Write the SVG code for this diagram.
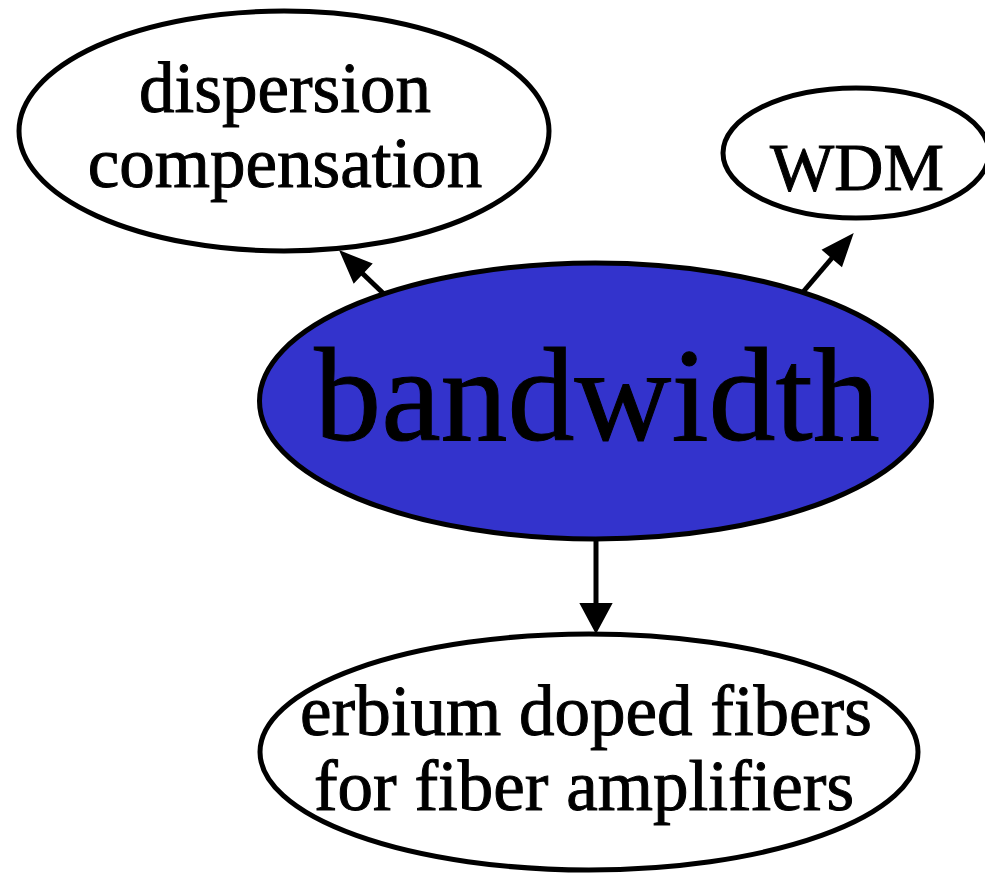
<svg xmlns="http://www.w3.org/2000/svg" width="985" height="874" viewBox="0 0 985 874">
<style>
.node ellipse{fill:#ffffff;stroke:#000000;stroke-width:5}
.node text{font-family:"Liberation Serif","Times New Roman",serif;fill:#000000;stroke:#000000;stroke-width:1;text-anchor:middle}
.edge line{stroke:#000000;stroke-width:5}
.edge polygon{fill:#000000;stroke:#000000;stroke-width:2}
</style>
<rect width="985" height="874" fill="#ffffff"/>
<g id="connectors" class="edge">
<line x1="385" y1="295" x2="362" y2="273"/>
<polygon points="341,252 371,264 354,282"/>
<line x1="803" y1="292" x2="832" y2="258"/>
<polygon points="852,235 841.5,265.5 823.3,250"/>
<line x1="596" y1="540" x2="596" y2="604"/>
<polygon points="596,632 581,604 611,604"/>
</g>
<g id="node-dispersion" class="node">
<ellipse cx="284" cy="131" rx="265" ry="120"/>
<text x="285" y="112" font-size="71">dispersion</text>
<text x="285" y="187" font-size="71">compensation</text>
</g>
<g id="node-wdm" class="node">
<ellipse cx="856" cy="153" rx="133" ry="65"/>
<text x="857" y="190" font-size="68">WDM</text>
</g>
<g id="node-bandwidth" class="node">
<ellipse cx="595.5" cy="401" rx="336" ry="138" style="fill:#3333cc"/>
<text x="597" y="440" font-size="134">bandwidth</text>
</g>
<g id="node-erbium" class="node">
<ellipse cx="589" cy="752" rx="329" ry="118"/>
<text x="586" y="735" font-size="71">erbium doped fibers</text>
<text x="584" y="810" font-size="71">for fiber amplifiers</text>
</g>
</svg>
